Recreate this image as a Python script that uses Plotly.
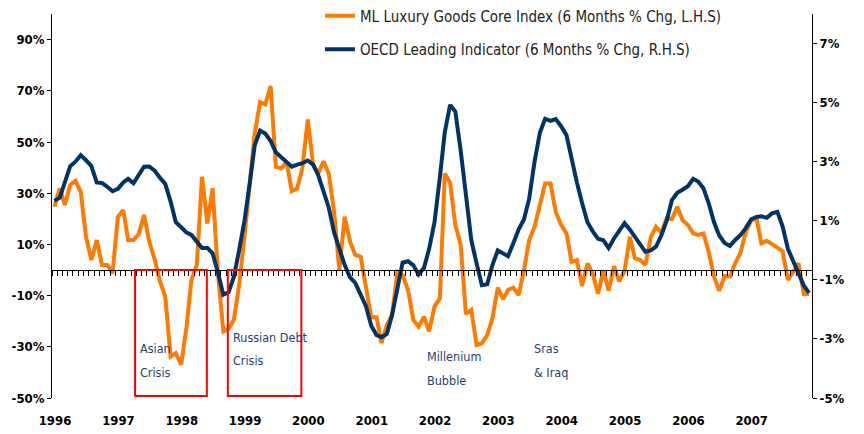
import plotly.graph_objects as go
import pandas as pd

# Monthly data, Jan 1996 - Dec 2007 (plotted at mid-month)
months = pd.date_range("1996-01-01", periods=144, freq="MS") + pd.Timedelta(days=14)

ml_luxury = [
    24.7, 31.9, 25.4, 33.2, 34.8, 30.5, 13.0, 3.9, 11.7, 2.0, 2.0, -1.3,
    20.8, 23.4, 11.7, 11.7, 14.0, 21.5, 11.0, 4.2, -4.5, -10.4, -33.8, -32.5,
    -37.0, -22.1, -3.9, 2.0, 36.4, 18.2, 31.9, -1.3, -24.0, -23.0, -19.5, -6.0,
    13.0, 33.0, 53.3, 65.6, 64.7, 71.8, 40.3, 39.7, 42.2, 30.8, 31.9, 39.7,
    58.8, 41.0, 37.7, 42.5, 37.7, 22.7, 0.0, 20.8, 11.0, 5.9, 5.2, -6.5,
    -18.5, -18.5, -28.6, -21.5, -17.6, -0.7, -2.0, -7.8, -19.5, -22.1, -18.2, -24.0,
    -14.3, -11.0, 37.7, 34.1, 17.6, 9.8, -17.2, -15.6, -29.3, -28.6, -25.4, -18.9,
    -6.9, -11.4, -7.8, -6.9, -9.8, 0.0, 11.7, 16.9, 25.4, 33.8, 33.8, 22.7,
    17.6, 14.3, 3.2, 3.9, -6.2, 2.6, -1.3, -9.3, -0.2, -8.0, 1.5, -4.4,
    -0.4, 13.0, 4.6, 3.9, 2.0, 12.7, 16.9, 14.6, 20.2, 19.9, 24.7, 19.5,
    17.6, 14.3, 13.7, 14.3, 7.1, -2.6, -8.1, -2.3, -2.6, 2.6, 6.8, 14.9,
    19.2, 20.2, 10.4, 11.4, 10.1, 8.5, 7.4, -3.9, -0.7, 2.6, -9.4, -9.4,
]

oecd_leading = [
    1.68, 1.78, 2.30, 2.85, 3.00, 3.22, 3.05, 2.85, 2.30, 2.28, 2.15, 2.00,
    2.08, 2.30, 2.42, 2.27, 2.55, 2.83, 2.84, 2.70, 2.45, 2.25, 1.65, 0.95,
    0.78, 0.60, 0.52, 0.30, 0.08, 0.08, -0.10, -0.75, -1.50, -1.42, -0.90, 0.00,
    1.00, 2.30, 3.55, 4.05, 3.95, 3.70, 3.32, 3.15, 3.00, 2.83, 2.90, 2.95,
    3.04, 2.90, 2.55, 2.00, 1.45, 0.60, 0.00, -0.50, -0.92, -1.10, -1.50, -1.88,
    -2.55, -2.87, -2.94, -2.83, -2.20, -1.30, -0.42, -0.37, -0.51, -0.82, -0.60, 0.05,
    0.95, 2.47, 3.99, 4.92, 4.70, 3.37, 1.80, 0.35, -0.45, -1.18, -1.15, -0.50,
    0.00, -0.10, -0.20, 0.25, 0.70, 1.05, 1.75, 3.00, 3.99, 4.45, 4.38, 4.44,
    4.20, 3.90, 3.10, 2.30, 1.60, 0.95, 0.65, 0.39, 0.34, 0.08, 0.40, 0.65,
    0.92, 0.70, 0.45, 0.20, -0.05, 0.00, 0.12, 0.50, 1.00, 1.70, 1.95, 2.05,
    2.17, 2.42, 2.33, 2.10, 1.60, 0.95, 0.50, 0.25, 0.15, 0.35, 0.52, 0.75,
    1.05, 1.13, 1.15, 1.10, 1.25, 1.30, 0.82, 0.05, -0.35, -0.72, -1.20, -1.44,
]

year_labels = [str(y) for y in range(1996, 2008)]
year_ticks = [f"{y}-01-01" for y in range(1996, 2008)]

left_ticks = [-50, -30, -10, 10, 30, 50, 70, 90]
right_ticks = [-5, -3, -1, 1, 3, 5, 7]

# event boxes (start, end)
boxes = [("1997-04-24", "1998-06-12"), ("1998-10-11", "1999-12-09")]
# note text lines: (text, x, y on left axis)
notes = [
    ("Asian", "1997-05-12", -30.8), ("Crisis", "1997-05-12", -40.2),
    ("Russian Debt", "1998-10-29", -26.5), ("Crisis", "1998-10-29", -35.5),
    ("Millenium", "2001-11-20", -33.9), ("Bubble", "2001-11-20", -43.3),
    ("Sras", "2003-07-30", -30.8), ("& Iraq", "2003-07-30", -40.2),
]

ORANGE = "#FF7B00"
NAVY = "#003366"
TXT = "#1F3F6E"
FONT = "DejaVu Sans Condensed, Liberation Sans Narrow, sans-serif"

fig = go.Figure()
fig.add_trace(go.Scatter(
    x=months, y=ml_luxury, mode="lines", name="ML Luxury Goods Core Index (6 Months % Chg, L.H.S)",
    line=dict(color=ORANGE, width=4), legendgroup="a", yaxis="y", xaxis="x"))
fig.add_trace(go.Scatter(
    x=months, y=oecd_leading, mode="lines", name="OECD Leading Indicator (6 Months % Chg, R.H.S)",
    line=dict(color=NAVY, width=4), legendgroup="b", yaxis="y2", xaxis="x"))
# helper trace so the zero-line axis (x2) is drawn
fig.add_trace(go.Scatter(x=[None], y=[None], xaxis="x2", yaxis="y", showlegend=False,
                         hoverinfo="skip", mode="lines"))

xr = ["1996-01-01", "2008-01-01"]

shapes = [dict(type="rect", xref="x", yref="y", x0=x0, x1=x1, y0=0, y1=-49.2,
               line=dict(color="#FF0000", width=2), fillcolor="rgba(0,0,0,0)")
          for x0, x1 in boxes]

annotations = [dict(x=tx, y=ty, xref="x", yref="y", text=t, showarrow=False,
                    xanchor="left", yanchor="middle", align="left",
                    font=dict(family=FONT, size=12.5, color=TXT))
               for t, tx, ty in notes]

tickfont = dict(family=FONT, size=13, color="black", weight="bold")

# page has an 8px body margin, so the figure is sized to fit the 864x434 window
fig.update_layout(
    width=856, height=426,
    margin=dict(l=44, r=52, t=6, b=36, autoexpand=False),
    paper_bgcolor="white", plot_bgcolor="white",
    font=dict(family=FONT, color="black"),
    showlegend=True,
    legend=dict(x=0.3526, y=1.038, xanchor="left", yanchor="top",
                bgcolor="rgba(0,0,0,0)", font=dict(family=FONT, size=15, color="#222222"),
                traceorder="grouped", tracegroupgap=11, itemwidth=30),
    xaxis=dict(type="date", range=xr, tickvals=year_ticks, ticktext=year_labels,
               showgrid=False, zeroline=False, showline=False, automargin=False,
               ticks="outside", ticklen=10, tickcolor="rgba(0,0,0,0)",
               tickfont=tickfont, ticklabelshift=3),
    xaxis2=dict(type="date", range=xr, overlaying="x", anchor="free", position=1/3,
                showgrid=False, zeroline=False, showline=True, linecolor="black", linewidth=1,
                ticks="outside", ticklen=5, tickcolor="black", tickwidth=1, automargin=False,
                dtick="M1", tick0="1996-01-01", showticklabels=False),
    yaxis=dict(range=[-50, 100], tickvals=left_ticks, ticktext=[f"{v}%" for v in left_ticks],
               showgrid=False, zeroline=False, showline=True, linecolor="black", linewidth=1,
               ticks="outside", ticklen=4, tickcolor="black", automargin=False,
               tickfont=tickfont),
    yaxis2=dict(range=[-5, 8], overlaying="y", side="right", anchor="x",
                tickvals=right_ticks, ticktext=[f"{v}%" for v in right_ticks],
                showgrid=False, zeroline=False, showline=True, linecolor="black", linewidth=1,
                ticks="outside", ticklen=4, tickcolor="black", automargin=False,
                tickfont=tickfont),
    shapes=shapes,
    annotations=annotations,
)

fig.write_html("out.html")
